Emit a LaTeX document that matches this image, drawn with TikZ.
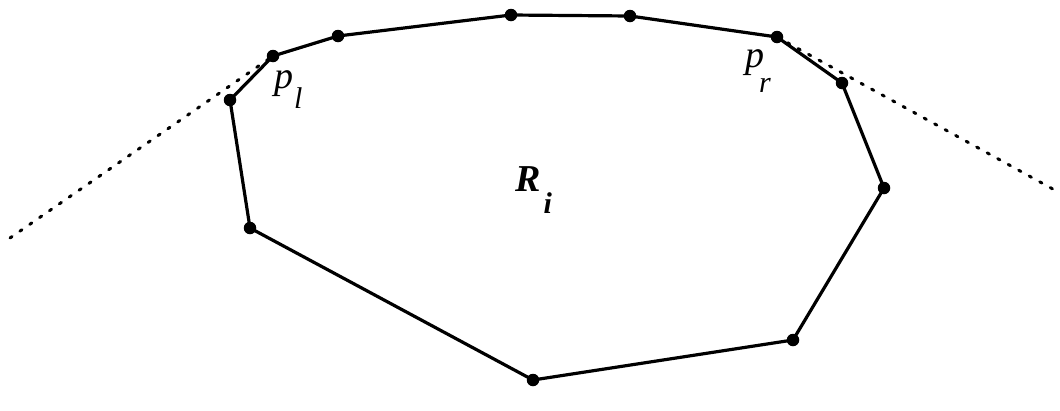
\documentclass[tikz,border=0pt]{standalone}
\usepackage{fontspec}
\setmainfont{Liberation Serif}
\newfontfamily\tmsit{Liberation Serif Italic}
\newfontfamily\tmsbi{Liberation Serif Bold Italic}
\begin{document}
\begin{tikzpicture}[x=1pt,y=-1pt,
  vert/.style={circle,fill=black,inner sep=0pt,minimum size=12.5pt},
  edge/.style={line width=3.2pt,line join=round},
  tangent/.style={line width=3pt,dash pattern=on 2.5pt off 9.5pt,line cap=round},
  lbl/.style={inner sep=0pt,anchor=base west,font=\fontsize{38}{38}\tmsit\selectfont},
  bl/.style={inner sep=0pt,anchor=base west,font=\fontsize{38}{38}\tmsbi\selectfont}]
\useasboundingbox (0,0) rectangle (1060,410);
\coordinate (A) at (230,100);
\coordinate (pl) at (273,56);
\coordinate (B) at (338,36);
\coordinate (C) at (511,15);
\coordinate (D) at (630,16);
\coordinate (pr) at (777,37);
\coordinate (E) at (842,83);
\coordinate (F) at (884,188);
\coordinate (G) at (793,340);
\coordinate (H) at (533,380);
\coordinate (I) at (250,228);
\coordinate (Lend) at (10,238);
\coordinate (Rend) at (1060,193);
\draw[tangent] (Lend) -- (pl);
\draw[tangent] (pr) -- (Rend);
\draw[edge] (A) -- (pl) -- (B) -- (C) -- (D) -- (pr) -- (E) -- (F) -- (G) -- (H) -- (I) -- cycle;
\foreach \v in {A,pl,B,C,D,pr,E,F,G,H,I} \node[vert] at (\v) {};
\node[lbl] (plab) at (274,88) {p\kern1pt\raisebox{-0.55em}{\fontsize{30}{30}\selectfont l}};
\node[lbl] (prlab) at (745,67) {p\kern-5pt\raisebox{-0.66em}{\fontsize{30}{30}\selectfont r}};
\node[bl] (Rlab) at (515,191) {R\kern3pt\raisebox{-0.6em}{\fontsize{30}{30}\selectfont i}};
\end{tikzpicture}
\end{document}
